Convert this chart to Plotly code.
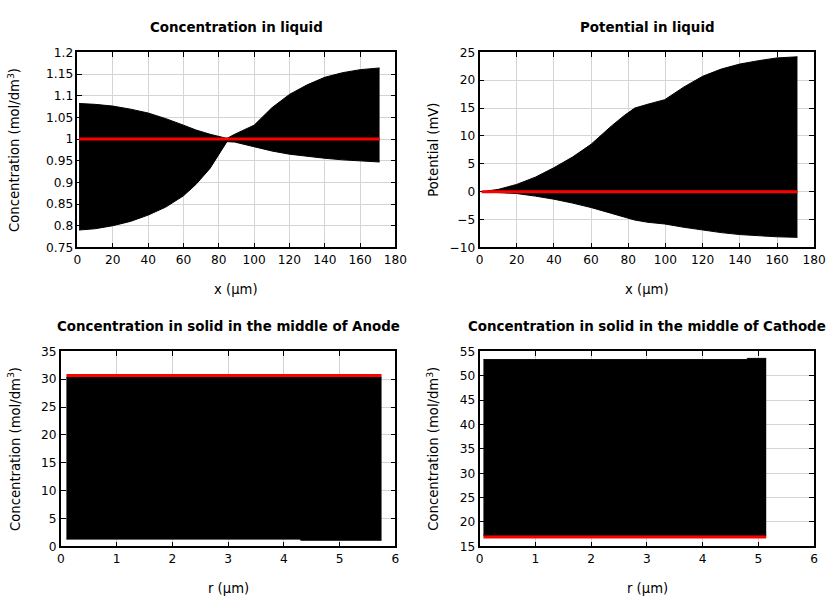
import plotly.graph_objects as go

# ---------------- data ----------------
# Concentration in liquid: envelope of all time profiles + initial profile
cl_x = [0.9, 10, 20, 30, 40, 50, 60, 67, 75, 80, 84.6, 89, 95, 100, 105, 110, 120, 130, 140, 150, 160, 171]
cl_upper = [1.082, 1.080, 1.076, 1.069, 1.060, 1.047, 1.032, 1.021, 1.011, 1.006, 1.0015, 1.011, 1.022, 1.032, 1.052, 1.072, 1.103, 1.125, 1.1425, 1.153, 1.160, 1.164]
cl_lower = [0.790, 0.793, 0.800, 0.810, 0.8245, 0.843, 0.869, 0.895, 0.932, 0.965, 0.994, 0.993, 0.987, 0.9816, 0.977, 0.9724, 0.965, 0.960, 0.9556, 0.952, 0.949, 0.947]
cl_init = [1.0, 1.0]
cl_init_x = [0.9, 171]

# Potential in liquid
pl_x = [1.2, 10, 20, 30, 40, 50, 60, 71, 78, 83.5, 90.6, 99.6, 110, 120, 130, 140, 150, 160, 171]
pl_upper = [0.0, 0.4, 1.3, 2.6, 4.3, 6.2, 8.5, 11.8, 13.7, 15.0, 15.7, 16.5, 18.8, 20.7, 22.0, 22.9, 23.5, 24.0, 24.2]
pl_lower = [0.0, -0.1, -0.34, -0.8, -1.35, -2.05, -2.85, -3.9, -4.6, -5.1, -5.5, -5.8, -6.4, -6.9, -7.35, -7.7, -7.95, -8.1, -8.2]
pl_init = [0.0, 0.0]
pl_init_x = [1.2, 171]

# Concentration in solid, middle of anode
an_x = [0.1, 4.3, 4.3, 5.75]
an_upper = [30.3, 30.3, 30.3, 30.3]
an_lower = [1.3, 1.3, 1.1, 1.1]
an_init = [30.65, 30.65]
an_init_x = [0.1, 5.75]

# Concentration in solid, middle of cathode
ca_x = [0.07, 4.8, 4.8, 5.14]
ca_upper = [53.3, 53.3, 53.55, 53.55]
ca_lower = [17.2, 17.2, 17.2, 17.2]
ca_init = [16.9, 16.9]
ca_init_x = [0.07, 5.14]

titles = ["Concentration in liquid", "Potential in liquid",
          "Concentration in solid in the middle of Anode",
          "Concentration in solid in the middle of Cathode"]
conc_title = "Concentration (mol/dm<sup>3</sup>)"

FONT = "DejaVu Sans"
W, H = 840, 600
SX, SY, OX, OY = 0.984, 0.98, 4.0, 5.5


def px(x):
    return ((x - OX) / SX) / W


def py(y):
    return 1 - ((y - OY) / SY) / H


fig = go.Figure()

panels = [
    dict(x=cl_x, up=cl_upper, lo=cl_lower, ix=cl_init_x, iy=cl_init, ax="x", ay="y"),
    dict(x=pl_x, up=pl_upper, lo=pl_lower, ix=pl_init_x, iy=pl_init, ax="x2", ay="y2"),
    dict(x=an_x, up=an_upper, lo=an_lower, ix=an_init_x, iy=an_init, ax="x3", ay="y3"),
    dict(x=ca_x, up=ca_upper, lo=ca_lower, ix=ca_init_x, iy=ca_init, ax="x4", ay="y4"),
]
for p in panels:
    fig.add_trace(go.Scatter(x=p["x"], y=p["lo"], mode="lines", line=dict(color="black", width=1),
                             xaxis=p["ax"], yaxis=p["ay"], showlegend=False, hoverinfo="skip"))
    fig.add_trace(go.Scatter(x=p["x"], y=p["up"], mode="lines", line=dict(color="black", width=1),
                             fill="tonexty", fillcolor="black",
                             xaxis=p["ax"], yaxis=p["ay"], showlegend=False, hoverinfo="skip"))
    fig.add_trace(go.Scatter(x=p["ix"], y=p["iy"], mode="lines", line=dict(color="#ff0000", width=3),
                             xaxis=p["ax"], yaxis=p["ay"], showlegend=False, hoverinfo="skip"))

top = [py(246.7), py(51)]
bot = [py(546.7), py(351)]
common = dict(showline=True, linecolor="black", linewidth=1.6, mirror="ticks", ticks="inside",
              ticklen=5, tickcolor="black", tickwidth=1.2, showgrid=True, gridcolor="#d4d4d4", gridwidth=1,
              zeroline=False, tickfont=dict(family=FONT, size=12.2, color="black"), layer="below traces")

fig.update_layout(
    width=W, height=H, margin=dict(l=0, r=0, t=0, b=0),
    paper_bgcolor="white", plot_bgcolor="white",
    font=dict(family=FONT, size=12, color="black"),
    xaxis=dict(domain=[px(77.7), px(396.7)], range=[0, 180], dtick=20, anchor="y", **common),
    yaxis=dict(domain=top, range=[0.75, 1.2], dtick=0.05, anchor="x", **common),
    xaxis2=dict(domain=[px(481), px(816.7)], range=[0, 180], dtick=20, anchor="y2", **common),
    yaxis2=dict(domain=top, range=[-10, 25], dtick=5, anchor="x2", **common),
    xaxis3=dict(domain=[px(61), px(396.7)], range=[0, 6], dtick=1, anchor="y3", **common),
    yaxis3=dict(domain=bot, range=[0, 35], dtick=5, anchor="x3", **common),
    xaxis4=dict(domain=[px(481), px(816.7)], range=[0, 6], dtick=1, anchor="y4", **common),
    yaxis4=dict(domain=bot, range=[15, 55], dtick=5, anchor="x4", **common),
)

ann = []
# subplot titles
for t, cx, cy in zip(titles, [237, 649, 229, 649], [26, 26, 326, 326]):
    ann.append(dict(text="<b>%s</b>" % t, x=px(cx), y=py(cy), xref="paper", yref="paper",
                    showarrow=False, xanchor="center", yanchor="middle",
                    font=dict(family=FONT, size=13.4, color="black")))
# x-axis titles
for t, cx, cy in [("x (µm)", 237, 289), ("x (µm)", 649, 289), ("r (µm)", 229, 589), ("r (µm)", 649, 589)]:
    ann.append(dict(text=t, x=px(cx), y=py(cy), xref="paper", yref="paper", showarrow=False,
                    xanchor="center", yanchor="middle", font=dict(family=FONT, size=13.2, color="black")))
# y-axis titles
for t, cx, cy in [(conc_title, 14, 149), ("Potential (mV)", 434, 149), (conc_title, 14, 449), (conc_title, 434, 449)]:
    ann.append(dict(text=t, x=px(cx), y=py(cy), xref="paper", yref="paper", showarrow=False,
                    textangle=-90, xanchor="center", yanchor="middle",
                    font=dict(family=FONT, size=13.2, color="black")))
fig.update_layout(annotations=ann)

fig.write_html("out.html", config={"displayModeBar": False},
               post_script="document.body.style.margin='0px';document.body.style.overflow='hidden';")
